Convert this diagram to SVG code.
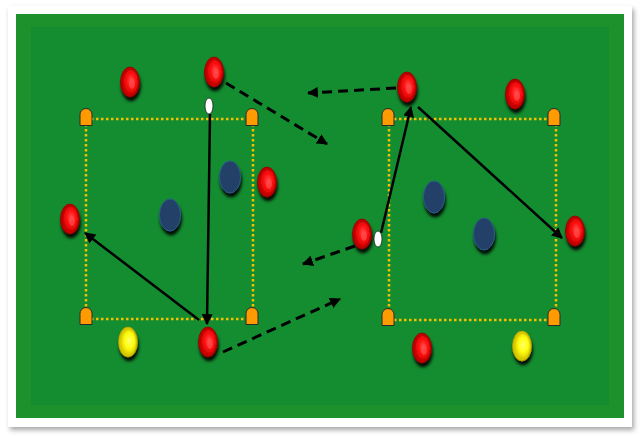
<svg xmlns="http://www.w3.org/2000/svg" width="640" height="436" viewBox="0 0 640 436">
<style>
.dot{stroke:#f2c200;stroke-width:2.5;stroke-dasharray:2.5 2.5;fill:none}
.solid{stroke:#000;stroke-width:2.5;fill:none;marker-end:url(#ah)}
.dash{stroke:#000;stroke-width:3;stroke-dasharray:10 6;fill:none;marker-end:url(#ah)}
.cone{fill:#ff9a00;stroke:#2a2a2a;stroke-width:1}
.ball{fill:#fff;stroke:#222;stroke-width:0.8}
</style>
<defs>
<filter id="fs" x="-5%" y="-5%" width="110%" height="110%"><feDropShadow dx="2" dy="3" stdDeviation="2.5" flood-color="#000" flood-opacity="0.35"/></filter>
<filter id="ps" x="-60%" y="-40%" width="220%" height="200%"><feDropShadow dx="1" dy="4" stdDeviation="1.8" flood-color="#000" flood-opacity="0.9"/></filter>
<radialGradient id="rg" cx="0.55" cy="0.45" r="0.6"><stop offset="0" stop-color="#ff5050"/><stop offset="0.5" stop-color="#ff1010"/><stop offset="1" stop-color="#c80000"/></radialGradient>
<radialGradient id="yg" cx="0.55" cy="0.45" r="0.6"><stop offset="0" stop-color="#ffff70"/><stop offset="0.5" stop-color="#ffff10"/><stop offset="1" stop-color="#d8c800"/></radialGradient>
<g id="red"><ellipse rx="9.5" ry="15" fill="#c00000" stroke="#900000" stroke-width="0.8"/><ellipse cx="0.5" cy="0" rx="7.5" ry="12" fill="url(#rg)"/><ellipse cx="2" cy="2" rx="3" ry="5" fill="#ff4a4a" opacity="0.7"/></g>
<g id="yel"><ellipse rx="9.5" ry="15" fill="#d8c800" stroke="#b0a000" stroke-width="0.8"/><ellipse cx="0.5" cy="0" rx="7.5" ry="12" fill="url(#yg)"/></g>
<g id="navy"><ellipse rx="10.5" ry="16" fill="#203f68" stroke="#2f5a8a" stroke-width="1"/></g>
<path id="cn" class="cone" d="M-6,8.5 L-6,-2.5 A6,6 0 0 1 6,-2.5 L6,8.5 Z"/>
<marker id="ah" viewBox="0 0 10 10" refX="9" refY="5" markerWidth="11" markerHeight="11" markerUnits="userSpaceOnUse" orient="auto"><path d="M0,0 L10,5 L0,10 Z" fill="#000"/></marker>
</defs>
<rect x="8" y="6" width="624" height="421" fill="#fff" filter="url(#fs)"/>
<rect x="16" y="14" width="608" height="404" fill="#1c912c"/>
<rect x="31" y="27" width="578" height="378" fill="#148c30"/>
<g id="areas">
<path class="dot" d="M86,119 H252 M86,319 H252 M86,119 V319 M253,119 V319"/>
<path class="dot" d="M389,119 H556 M389,320 H556 M389,119 V320 M556,119 V320"/>
</g>
<g id="cones">
<use href="#cn" x="86" y="117"/><use href="#cn" x="252" y="117"/><use href="#cn" x="86" y="316"/><use href="#cn" x="252" y="316"/>
<use href="#cn" x="388" y="117"/><use href="#cn" x="554" y="117"/><use href="#cn" x="388" y="317"/><use href="#cn" x="554" y="317"/>
</g>
<g id="connectors">
<path class="solid" d="M210,114 L207,324"/>
<path class="solid" d="M199,320 L85,233"/>
<path class="dash" d="M226,83 L327,144"/>
<path class="dash" d="M223,352 L340,299"/>
<path class="dash" d="M396,88 L308,93"/>
<path class="dash" d="M355,246 L303,264"/>
<path class="solid" d="M381,233 L411,107"/>
<path class="solid" d="M418,107 L562,238"/>
</g>
<g filter="url(#ps)">
<g id="p1"><use href="#red" x="130" y="82"/></g>
<g id="p2"><use href="#red" x="214" y="72"/></g>
<g id="p3"><use href="#navy" x="230" y="177"/></g>
<g id="p4"><use href="#red" x="267" y="182"/></g>
<g id="p5"><use href="#navy" x="170" y="215"/></g>
<g id="p6"><use href="#red" x="70" y="219"/></g>
<g id="p7"><use href="#yel" x="128" y="342"/></g>
<g id="p8"><use href="#red" x="208" y="342"/></g>
<g id="p9"><use href="#red" x="407" y="87"/></g>
<g id="p10"><use href="#red" x="515" y="94"/></g>
<g id="p11"><use href="#navy" x="434" y="197"/></g>
<g id="p12"><use href="#navy" x="484" y="234"/></g>
<g id="p13"><use href="#red" x="575" y="231"/></g>
<g id="p14"><use href="#red" x="362" y="234"/></g>
<g id="p15"><use href="#red" x="422" y="348"/></g>
<g id="p16"><use href="#yel" x="522" y="346"/></g>
</g>
<g id="ball1"><ellipse class="ball" cx="209" cy="106" rx="4" ry="8"/></g>
<g id="ball2"><ellipse class="ball" cx="378" cy="239" rx="4" ry="8"/></g>
</svg>
